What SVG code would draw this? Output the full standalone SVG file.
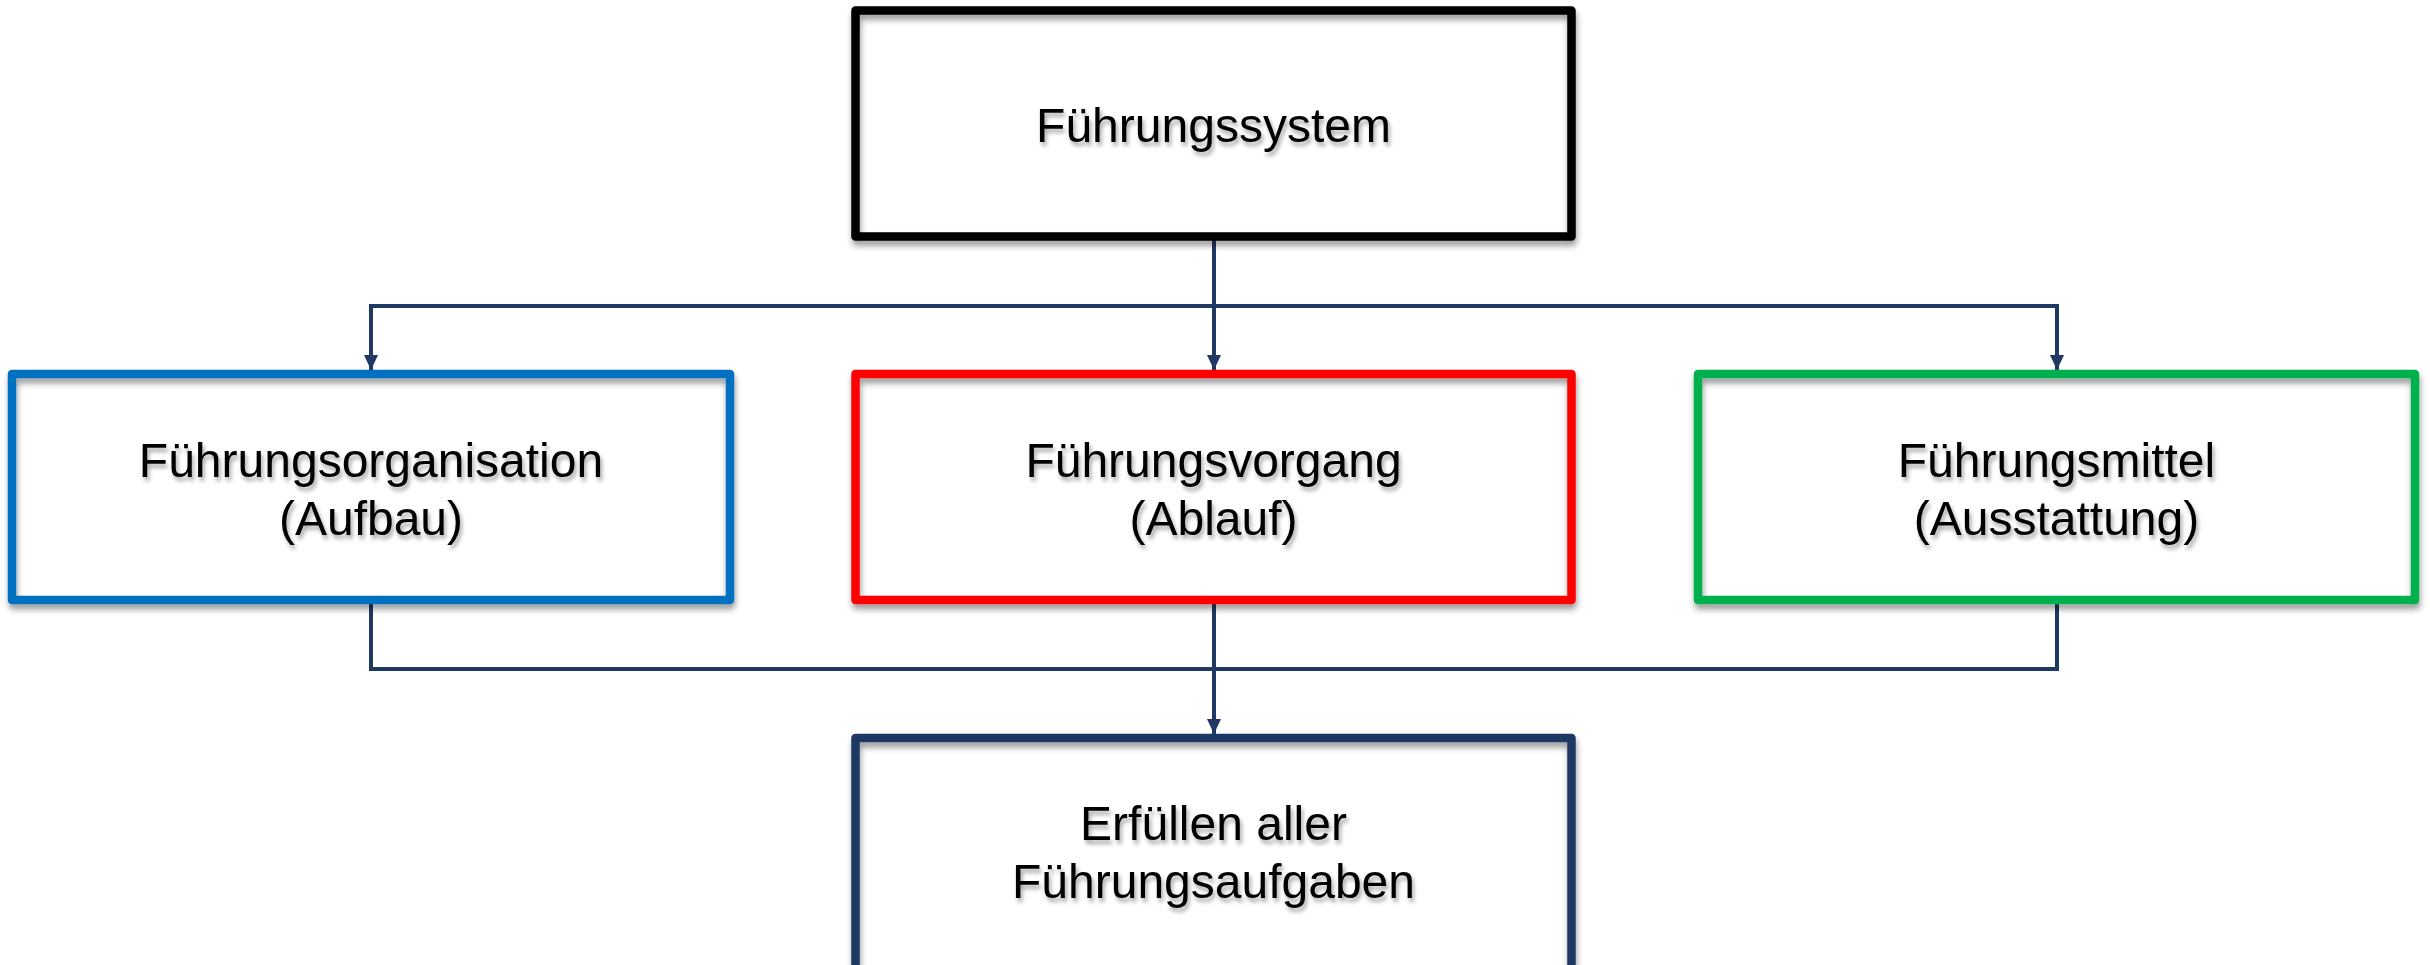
<svg xmlns="http://www.w3.org/2000/svg" width="2430" height="965" viewBox="0 0 2430 965">
<defs>
<filter id="boxShadow" x="-5%" y="-10%" width="110%" height="125%">
<feGaussianBlur in="SourceAlpha" stdDeviation="3"/>
<feOffset dx="1" dy="5" result="b"/>
<feComponentTransfer><feFuncA type="linear" slope="0.4"/></feComponentTransfer>
<feMerge><feMergeNode/><feMergeNode in="SourceGraphic"/></feMerge>
</filter>
<filter id="textShadow" x="-5%" y="-20%" width="110%" height="150%">
<feGaussianBlur in="SourceAlpha" stdDeviation="2"/>
<feOffset dx="2" dy="4" result="b"/>
<feComponentTransfer><feFuncA type="linear" slope="0.35"/></feComponentTransfer>
<feMerge><feMergeNode/><feMergeNode in="SourceGraphic"/></feMerge>
</filter>
<marker id="arrow" viewBox="0 0 15 14" refX="15" refY="7" markerWidth="15" markerHeight="14" markerUnits="userSpaceOnUse" orient="auto">
<path d="M0,0 L15,7 L0,14 Z" fill="#1F3864"/>
</marker>
</defs>
<style>
.fill{fill:#ffffff;stroke:none}
.frame{fill:none;stroke-width:8.5;stroke-linejoin:round;filter:url(#boxShadow)}
.lbl{font-family:"Liberation Sans",Arial,sans-serif;font-size:48px;fill:#000000;text-anchor:middle;filter:url(#textShadow)}
.conn{fill:none;stroke:#1F3864;stroke-width:4}
</style>
<rect width="2430" height="965" fill="#ffffff"/>
<g id="connectors">
<line class="conn" x1="1214" y1="237" x2="1214" y2="370" marker-end="url(#arrow)"/>
<polyline class="conn" points="371,370 371,306 2057,306 2057,370" marker-end="url(#arrow)"/>
<line class="conn" x1="371" y1="306" x2="371" y2="370" marker-end="url(#arrow)"/>
<polyline class="conn" points="371,600 371,669 2057,669 2057,600"/>
<line class="conn" x1="1214" y1="600" x2="1214" y2="734" marker-end="url(#arrow)"/>
</g>
<g id="node-fuehrungssystem">
<rect class="fill" x="855.5" y="10.5" width="716" height="226"/>
<rect class="frame" x="855.5" y="10.5" width="716" height="226" stroke="#000000"/>
<text class="lbl" x="1213.5" y="142">Führungssystem</text>
</g>
<g id="node-fuehrungsorganisation">
<rect class="fill" x="12" y="374" width="718" height="226"/>
<rect class="frame" x="12" y="374" width="718" height="226" stroke="#0070C0"/>
<text class="lbl" x="371" y="477">Führungsorganisation</text>
<text class="lbl" x="371" y="535">(Aufbau)</text>
</g>
<g id="node-fuehrungsvorgang">
<rect class="fill" x="855.5" y="374" width="716" height="226"/>
<rect class="frame" x="855.5" y="374" width="716" height="226" stroke="#FF0000"/>
<text class="lbl" x="1213.5" y="477">Führungsvorgang</text>
<text class="lbl" x="1213.5" y="535">(Ablauf)</text>
</g>
<g id="node-fuehrungsmittel">
<rect class="fill" x="1698" y="374" width="717" height="226"/>
<rect class="frame" x="1698" y="374" width="717" height="226" stroke="#00B050"/>
<text class="lbl" x="2056.5" y="477">Führungsmittel</text>
<text class="lbl" x="2056.5" y="535">(Ausstattung)</text>
</g>
<g id="node-erfuellen">
<rect class="fill" x="855.5" y="738" width="716" height="260"/>
<rect class="frame" x="855.5" y="738" width="716" height="260" stroke="#1F3864"/>
<text class="lbl" x="1213.5" y="840">Erfüllen aller</text>
<text class="lbl" x="1213.5" y="898">Führungsaufgaben</text>
</g>
</svg>
